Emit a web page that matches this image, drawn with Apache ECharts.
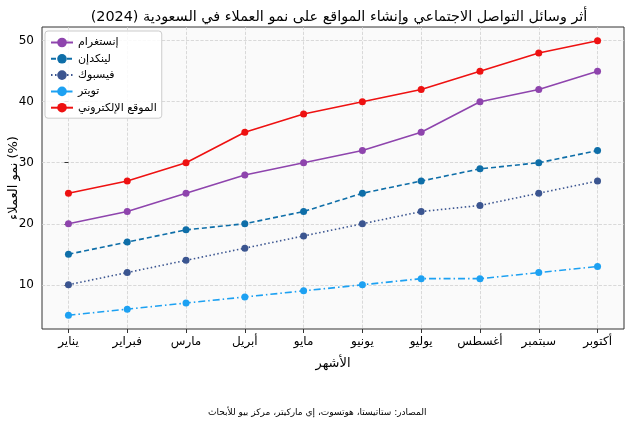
<!DOCTYPE html>
<html>
<head>
<meta charset="utf-8">
<script src="https://cdn.jsdelivr.net/npm/echarts@6/dist/echarts.min.js"></script>
<style>html,body{margin:0;padding:0;background:#fff}#c{width:630px;height:425px}</style>
</head>
<body>
<div id="c"></div>
<script>
const months = ['يناير','فبراير','مارس','أبريل','مايو','يونيو','يوليو','أغسطس','سبتمبر','أكتوبر'];
const instagram = [20,22,25,28,30,32,35,40,42,45];
const linkedin = [15,17,19,20,22,25,27,29,30,32];
const facebook = [10,12,14,16,18,20,22,23,25,27];
const twitter = [5,6,7,8,9,10,11,11,12,13];
const website = [25,27,30,35,38,40,42,45,48,50];
const yTicks = [10,20,30,40,50];
const seriesNames = ['إنستغرام','لينكدإن','فيسبوك','تويتر','الموقع الإلكتروني'];

const font = 'DejaVu Sans';
const chart = echarts.init(document.getElementById('c'));
const xIdx = months.map((m,i)=>i);
function mk(name, data, color, type){
  return {
    name, type:'line', data: data.map((v,i)=>[i,v]),
    symbol:'circle', symbolSize:7,
    itemStyle:{color},
    lineStyle:{color, width:1.6, type},
    emphasis:{disabled:true}, animation:false
  };
}
chart.setOption({
  animation:false,
  textStyle:{fontFamily:font},
  title:{text:'أثر وسائل التواصل الاجتماعي وإنشاء المواقع على نمو العملاء في السعودية (2024)',
    left:334, textAlign:'center', top:5,
    textStyle:{fontFamily:font,fontSize:14.4,fontWeight:'normal',color:'#000'}},
  graphic:[{type:'text', left:208, top:408,
    style:{text:'المصادر: ستاتيستا، هوتسوت، إي ماركيتر، مركز بيو للأبحاث', fontFamily:font, fontSize:9, fill:'#000'}}],
  legend:{orient:'vertical', left:45, top:31, itemWidth:22, itemHeight:12, itemGap:5.3,
    padding:[6,5,5,5], backgroundColor:'rgba(255,255,255,0.85)', borderColor:'#ccc', borderWidth:1, borderRadius:3,
    textStyle:{fontFamily:font,fontSize:11,color:'#000'}, data:seriesNames},
  grid:{left:42, right:6, top:27, bottom:96, containLabel:false, outerBoundsMode:'none', show:true, backgroundColor:'#fafafa', borderColor:'#333', borderWidth:1},
  xAxis:{type:'value', min:-0.45, max:9.45,
    name:'الأشهر', nameLocation:'middle', nameGap:28, nameMoveOverlap:false, nameTextStyle:{fontFamily:font,fontSize:13,color:'#000'},
    axisLine:{show:false},
    axisTick:{show:true, customValues:xIdx, length:4, inside:false, lineStyle:{color:'#333'}},
    axisLabel:{customValues:xIdx, formatter:v=>months[Math.round(v)], fontFamily:font, fontSize:12, color:'#000', margin:7},
    splitLine:{show:true, customValues:xIdx, lineStyle:{color:'#d0d0d0', type:'dashed', width:0.8}}},
  yAxis:{type:'value', min:2.75, max:52.25,
    name:'نمو العملاء (%)', nameLocation:'middle', nameGap:22, nameMoveOverlap:false, nameTextStyle:{fontFamily:font,fontSize:13,color:'#000'},
    axisLine:{show:false},
    axisTick:{show:true, customValues:yTicks, length:4, lineStyle:{color:'#333'}},
    axisLabel:{customValues:yTicks, fontFamily:font, fontSize:12, color:'#000', margin:8},
    splitLine:{show:true, customValues:yTicks, lineStyle:{color:'#d0d0d0', type:'dashed', width:0.8}}},
  series:[
    mk(seriesNames[0], instagram, '#8e44ad', 'solid'),
    mk(seriesNames[1], linkedin, '#0e6ea8', [5,3]),
    mk(seriesNames[2], facebook, '#3b5590', [1.5,2.5]),
    mk(seriesNames[3], twitter, '#1da1f2', [7,3,1.5,3]),
    mk(seriesNames[4], website, '#ee1111', 'solid')
  ]
});
</script>
</body>
</html>
